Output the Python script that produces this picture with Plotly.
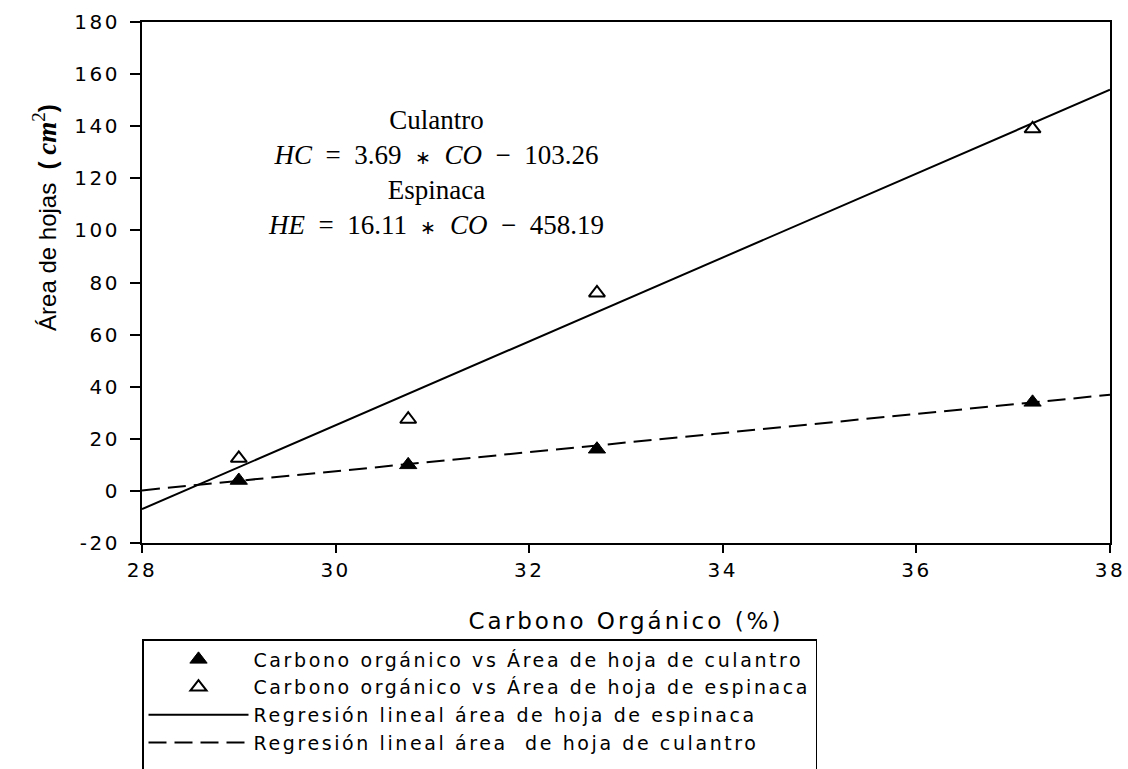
import plotly.graph_objects as go

# ---- data ----
co_points = [29.0, 30.75, 32.7, 37.2]            # Carbono orgánico (%)
culantro_area = [4.0, 10.0, 16.0, 34.0]          # área hoja culantro
espinaca_area = [12.5, 27.5, 76.0, 139.0]        # área hoja espinaca

fit_x = [28, 38]
espinaca_fit = [-7.0, 154.0]
culantro_fit = [0.2, 36.9]

x_ticks = [28, 30, 32, 34, 36, 38]
y_ticks = [-20, 0, 20, 40, 60, 80, 100, 120, 140, 160, 180]

names = [
    "Carbono orgánico vs Área de hoja de culantro",
    "Carbono orgánico vs Área de hoja de espinaca",
    "Regresión lineal área de hoja de espinaca",
    "Regresión lineal área  de hoja de culantro",
]

SANS = "DejaVu Sans"


def spaced(t, ls):
    return f"<span style='letter-spacing:{ls}px'>{t}</span>"


fig = go.Figure()

fig.add_trace(go.Scatter(
    x=fit_x, y=espinaca_fit, mode="lines", name=spaced(names[2], 2.6),
    line=dict(color="black", width=2), legendrank=3))
fig.add_trace(go.Scatter(
    x=fit_x, y=culantro_fit, mode="lines", name=spaced(names[3], 2.6),
    line=dict(color="black", width=2, dash="18px,8px"), legendrank=4))
fig.add_trace(go.Scatter(
    x=co_points, y=culantro_area, mode="markers", name=spaced(names[0], 2.6),
    marker=dict(symbol="triangle-up", size=15, color="black",
                line=dict(color="black", width=1)), legendrank=1))
fig.add_trace(go.Scatter(
    x=co_points, y=espinaca_area, mode="markers", name=spaced(names[1], 2.6),
    marker=dict(symbol="triangle-up", size=14, color="white",
                line=dict(color="black", width=2)), legendrank=2))
# empty row so the legend frame runs past the bottom edge, as in the reference
fig.add_trace(go.Scatter(
    x=[None], y=[None], mode="none", name=" ", legendrank=5,
    hoverinfo="skip"))

star = "<span style='font-size:19px'>∗</span>"
fig.add_annotation(
    xref="paper", yref="paper", x=0.3037, y=0.712,
    xanchor="center", yanchor="middle", showarrow=False, align="center",
    font=dict(family="Liberation Serif", size=27, color="black"),
    text=("Culantro<br><i>HC</i>  =  3.69  " + star + "  <i>CO</i>  −  103.26<br>"
          "Espinaca<br><i>HE</i>  =  16.11  " + star + "  <i>CO</i>  −  458.19"))

fig.add_annotation(
    xref="paper", yref="paper", x=-0.1002, y=0.624,
    xanchor="center", yanchor="middle", showarrow=False, textangle=-90,
    font=dict(family="Liberation Sans", size=24, color="black"),
    text=("Área de hojas  <b>(</b> "
          "<span style='font-family:Liberation Serif;font-size:27px'><b><i>cm</i></b><sup>2</sup></span>"
          "<b>)</b>"))

fig.update_xaxes(
    range=[28, 38], tickvals=x_ticks,
    ticktext=[spaced(str(v), 2.5) for v in x_ticks],
    ticks="outside", ticklen=8, tickwidth=2, tickcolor="black",
    showline=True, linewidth=2, linecolor="black", mirror=True,
    showgrid=False, zeroline=False,
    tickfont=dict(family=SANS, size=20, color="black"),
    title=dict(text=spaced("Carbono Orgánico (%)", 3),
               font=dict(family=SANS, size=23, color="black"), standoff=32))

fig.update_yaxes(
    range=[-20, 180], tickvals=y_ticks,
    ticktext=[spaced(str(v), 2.5) for v in y_ticks],
    ticks="outside", ticklen=10, tickwidth=2, tickcolor="black",
    showline=True, linewidth=2, linecolor="black", mirror=True,
    showgrid=False, zeroline=False, ticklabelstandoff=6,
    tickfont=dict(family=SANS, size=20, color="black"))

fig.update_layout(
    width=1128, height=769,
    margin=dict(l=142, r=18, t=22, b=226, autoexpand=False),
    paper_bgcolor="white", plot_bgcolor="white",
    showlegend=True,
    legend=dict(
        x=0, y=-0.1843, xanchor="left", yanchor="top",
        xref="paper", yref="paper",
        bordercolor="black", borderwidth=1.5, bgcolor="white",
        font=dict(family=SANS, size=19, color="black"),
        itemwidth=100, traceorder="normal"),
)

fig.write_html("out.html")
